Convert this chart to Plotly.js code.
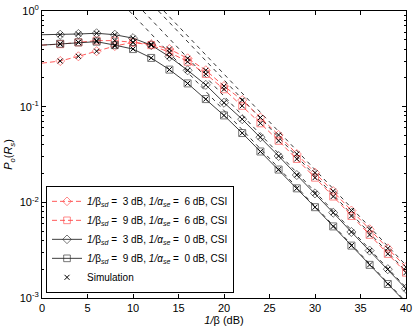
<!DOCTYPE html>
<html>
<head>
<meta charset="utf-8">
<script src="https://cdn.plot.ly/plotly-3.0.1.min.js"></script>
<style>
  html, body { margin: 0; padding: 0; background: #fff; }
  #chart { width: 415px; height: 326px; }
</style>
</head>
<body>
<div id="chart"></div>
<script>
// 1/beta in dB, one point every 2 dB (markers start at 2 dB)
const snrDb = [0, 2, 4, 6, 8, 10, 12, 14, 16, 18, 20, 22, 24, 26, 28, 30, 32, 34, 36, 38, 40];

// outage probability
const pRed3 = [0.285, 0.30, 0.336, 0.38, 0.43, 0.47, 0.45, 0.40, 0.32, 0.24, 0.164, 0.117, 0.077, 0.0506, 0.032, 0.0204, 0.0131, 0.0082, 0.00523, 0.0033, 0.0021];
const pRed9 = [0.44, 0.45, 0.47, 0.49, 0.49, 0.47, 0.44, 0.37, 0.295, 0.22, 0.152, 0.102, 0.067, 0.044, 0.0284, 0.0181, 0.0115, 0.0072, 0.00457, 0.00289, 0.00184];
const pBlk3 = [0.565, 0.565, 0.575, 0.585, 0.565, 0.52, 0.44, 0.333, 0.24, 0.169, 0.110, 0.074, 0.048, 0.0305, 0.0193, 0.0124, 0.0078, 0.0049, 0.00313, 0.002, 0.00125];
const pBlk9 = [0.44, 0.455, 0.47, 0.478, 0.44, 0.40, 0.323, 0.244, 0.175, 0.12, 0.081, 0.053, 0.034, 0.022, 0.014, 0.0089, 0.0056, 0.00353, 0.00222, 0.0014, 0.00089];

// high-SNR asymptotes: start at P = 1, end at 40 dB
const asymStartX = [9.6, 11.1, 12.8, 13.4];
const asymEndY = [0.00091, 0.00129, 0.0019, 0.0022];

const yTickVals = [0.001, 0.01, 0.1, 1];
const yTickText = ['10<sup>-3</sup>', '10<sup>-2</sup>', '10<sup>-1</sup>', '10<sup>0</sup>'];
const xTickVals = [0, 5, 10, 15, 20, 25, 30, 35, 40];

const RED = 'rgb(255,70,70)';
const BLACK = 'rgb(40,40,40)';

const legendNames = [
  '<i>1/</i>β<sub><i>sd</i></sub> =  3 dB, <i>1/α<sub>se</sub></i> =  6 dB, CSI',
  '<i>1/</i>β<sub><i>sd</i></sub> =  9 dB, <i>1/α<sub>se</sub></i> =  6 dB, CSI',
  '<i>1/</i>β<sub><i>sd</i></sub> =  3 dB, <i>1/α<sub>se</sub></i> =  0 dB, CSI',
  '<i>1/</i>β<sub><i>sd</i></sub> =  9 dB, <i>1/α<sub>se</sub></i> =  0 dB, CSI'
];

// no marker at 0 dB
const markSize = snrDb.map((_, i) => (i === 0 ? 0 : 7));

function curve(y, name, color, dash, symbol) {
  return {
    x: snrDb,
    y: y,
    name: name,
    type: 'scatter',
    mode: 'lines+markers',
    line: { color: color, width: 0.9, dash: dash },
    marker: { symbol: symbol, size: markSize, color: color, line: { color: color, width: 0.9 } },
    cliponaxis: true
  };
}

const traces = [];

// asymptotes first so they sit underneath
asymStartX.forEach((x0, i) => {
  traces.push({
    x: [x0, 40],
    y: [1, asymEndY[i]],
    type: 'scatter',
    mode: 'lines',
    line: { color: 'black', width: 0.8, dash: '4px,4px' },
    showlegend: false,
    hoverinfo: 'skip'
  });
});

traces.push(curve(pRed3, legendNames[0], RED, '5px,3px', 'diamond-open'));
traces.push(curve(pRed9, legendNames[1], RED, '5px,3px', 'square-open'));
traces.push(curve(pBlk3, legendNames[2], BLACK, 'solid', 'diamond-open'));
traces.push(curve(pBlk9, legendNames[3], BLACK, 'solid', 'square-open'));

// simulation points sit on the analytical curves
[pRed3, pRed9, pBlk3, pBlk9].forEach((y, i) => {
  traces.push({
    x: snrDb.slice(1),
    y: y.slice(1),
    name: 'Simulation',
    type: 'scatter',
    mode: 'markers',
    marker: { symbol: 'x-thin-open', size: 5, color: 'black', line: { color: 'black', width: 1 } },
    showlegend: i === 0
  });
});

// minor ticks on the log axis
const minorVals = [];
[0.001, 0.01, 0.1].forEach(d => {
  for (let k = 2; k <= 9; k++) minorVals.push(d * k);
});

const font = { family: 'Liberation Sans, Arial, sans-serif', size: 11, color: 'black' };

const layout = {
  width: 415,
  height: 326,
  margin: { l: 42, r: 9, t: 11, b: 28 },
  paper_bgcolor: 'white',
  plot_bgcolor: 'white',
  font: font,
  showlegend: true,
  xaxis: {
    range: [0, 40],
    tickmode: 'array',
    tickvals: xTickVals,
    ticks: 'inside',
    ticklen: 4,
    tickcolor: 'black',
    showline: true,
    linecolor: 'black',
    linewidth: 1,
    mirror: 'ticks',
    showgrid: false,
    zeroline: false,
    tickfont: font,
    title: { text: '<i>1/</i>β (dB)', font: { family: font.family, size: 11 }, standoff: 2 }
  },
  yaxis: {
    type: 'log',
    range: [-3, 0],
    tickmode: 'array',
    tickvals: yTickVals,
    ticktext: yTickText,
    ticks: 'inside',
    ticklen: 4,
    tickcolor: 'black',
    showline: true,
    linecolor: 'black',
    linewidth: 1,
    mirror: 'ticks',
    showgrid: false,
    zeroline: false,
    tickfont: font,
    minor: { tickmode: 'array', tickvals: minorVals, ticks: 'inside', ticklen: 2, tickcolor: 'black', showgrid: false },
    title: { text: '<i>P<sub>o</sub></i>(<i>R<sub>s</sub></i>)', font: { family: font.family, size: 11 }, standoff: 4 }
  },
  legend: {
    x: 0.011,
    y: 0.018,
    xanchor: 'left',
    yanchor: 'bottom',
    bgcolor: 'white',
    bordercolor: 'black',
    borderwidth: 1,
    tracegroupgap: 0,
    itemwidth: 30,
    font: { family: font.family, size: 10, color: 'black' }
  }
};

Plotly.newPlot('chart', traces, layout, { displayModeBar: false, staticPlot: true });
</script>
</body>
</html>
